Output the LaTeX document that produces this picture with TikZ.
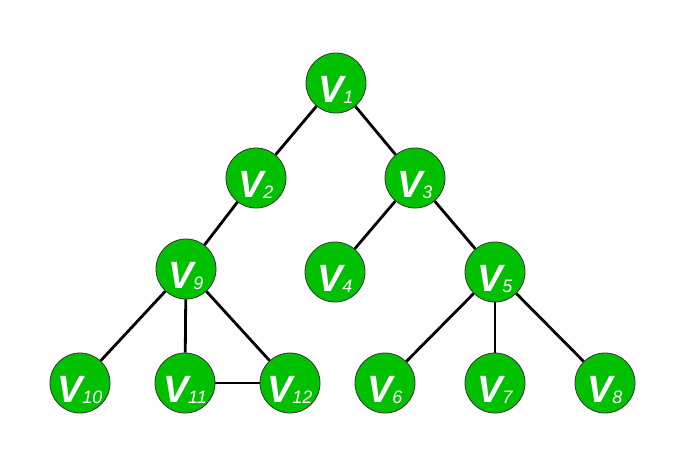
\documentclass[tikz,border=0pt]{standalone}
\usepackage{fontspec}
\setmainfont{Liberation Sans}
\definecolor{vgreen}{RGB}{0,192,0}
% vertex label: large V with a lowered, smaller index
\newcommand{\vlab}[1]{{\fontsize{38}{38}\selectfont\bfseries\itshape V}\kern-0.5pt{\fontsize{18}{18}\selectfont\itshape\raisebox{-1.5pt}{#1}}}
\begin{document}
\begin{tikzpicture}[x=1pt,y=-1pt,
  vertex/.style={circle,draw=black!80,line width=0.8pt,fill=vgreen,
    minimum size=60pt,inner sep=0pt,text=white,text height=38pt,text depth=0pt},
  edge/.style={line width=2.8pt,black}]
\useasboundingbox (0,0) rectangle (686,466);
\node[vertex] (v1)  at (336,83)  {\vlab{1}};
\node[vertex] (v2)  at (256,178) {\vlab{2}};
\node[vertex] (v3)  at (415,178) {\vlab{3}};
\node[vertex] (v9)  at (186,269) {\vlab{9}};
\node[vertex] (v4)  at (335,272) {\vlab{4}};
\node[vertex] (v5)  at (495,272) {\vlab{5}};
\node[vertex] (v10) at (80,383)  {\vlab{10}};
\node[vertex] (v11) at (185,383) {\vlab{11}};
\node[vertex] (v12) at (290,383) {\vlab{12}};
\node[vertex] (v6)  at (385,383) {\vlab{6}};
\node[vertex] (v7)  at (495,383) {\vlab{7}};
\node[vertex] (v8)  at (605,383) {\vlab{8}};
\foreach \a/\b in {v1/v2,v1/v3,v2/v9,v3/v4,v3/v5,v9/v10,v9/v11,v9/v12,v11/v12,v5/v6,v5/v7,v5/v8}
  \draw[edge] (\a) -- (\b);
\end{tikzpicture}
\end{document}
